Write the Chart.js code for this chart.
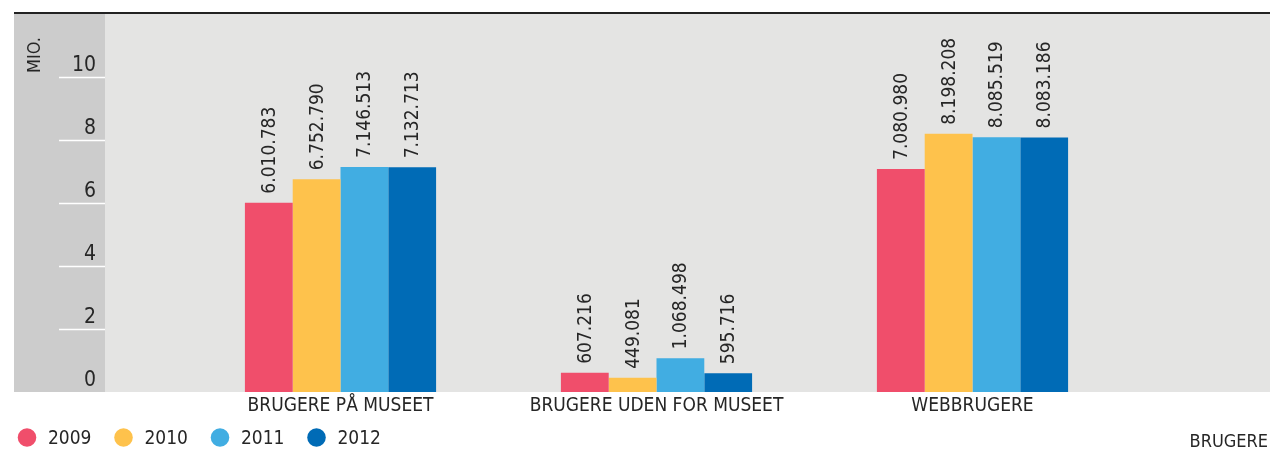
<!DOCTYPE html>
<html>
<head>
<meta charset="utf-8">
<script src="https://cdn.jsdelivr.net/npm/chart.js@4.4.1/dist/chart.umd.min.js"></script>
<style>
  html, body { margin: 0; padding: 0; background: #fff; }
</style>
</head>
<body>
<canvas id="myChart" width="1270" height="455"></canvas>
<script>
var categories = ['BRUGERE PÅ MUSEET', 'BRUGERE UDEN FOR MUSEET', 'WEBBRUGERE'];
var years = ['2009', '2010', '2011', '2012'];
var users2009 = [6010783, 607216, 7080980];
var users2010 = [6752790, 449081, 8198208];
var users2011 = [7146513, 1068498, 8085519];
var users2012 = [7132713, 595716, 8083186];
var yTicks = [0, 2, 4, 6, 8, 10];

var colors = ['#f04e6b', '#fec24c', '#41ade2', '#006bb6'];
var FONT = "'DejaVu Sans Condensed', 'Liberation Sans', sans-serif";
var TEXT = '#262626';

function fmt(n) {
  return String(n).replace(/\B(?=(\d{3})+(?!\d))/g, '.');
}

var series = [users2009, users2010, users2011, users2012];
var data = {
  labels: categories,
  datasets: series.map(function (s, i) {
    return {
      label: years[i],
      raw: s,
      data: s.map(function (v) { return v / 1000000; }),
      backgroundColor: colors[i],
      borderWidth: 0,
      categoryPercentage: 0.605,
      barPercentage: 1
    };
  })
};

// backgrounds, tick lines, value labels, legend and extra titles
var decor = {
  id: 'decor',
  beforeDraw: function (chart) {
    var c = chart.ctx, a = chart.chartArea, y = chart.scales.y;
    c.save();
    c.fillStyle = '#cccccc';
    c.fillRect(14, a.top, 91, a.bottom - a.top);
    c.fillStyle = '#e4e4e3';
    c.fillRect(105, a.top, 1270 - 105, a.bottom - a.top);
    c.strokeStyle = '#222';
    c.lineWidth = 2;
    c.beginPath();
    c.moveTo(14, a.top - 1);
    c.lineTo(1270, a.top - 1);
    c.stroke();
    c.strokeStyle = '#ffffff';
    c.lineWidth = 1.5;
    yTicks.forEach(function (t) {
      if (t === 0) return;
      var py = Math.round(y.getPixelForValue(t)) + 0.5;
      c.beginPath();
      c.moveTo(59, py);
      c.lineTo(105, py);
      c.stroke();
    });
    c.restore();
  },
  afterDatasetsDraw: function (chart) {
    var c = chart.ctx;
    c.save();
    c.fillStyle = TEXT;
    c.font = '19px ' + FONT;
    c.textAlign = 'left';
    c.textBaseline = 'middle';
    chart.data.datasets.forEach(function (ds, i) {
      chart.getDatasetMeta(i).data.forEach(function (bar, j) {
        c.save();
        c.translate(bar.x, bar.y - 9);
        c.rotate(-Math.PI / 2);
        c.fillText(fmt(ds.raw[j]), 0, 1);
        c.restore();
      });
    });
    c.restore();
  },
  afterDraw: function (chart) {
    var c = chart.ctx;
    c.save();
    c.fillStyle = TEXT;
    // MIO.
    c.font = '18px ' + FONT;
    c.save();
    c.translate(34, 73);
    c.rotate(-Math.PI / 2);
    c.textAlign = 'left';
    c.textBaseline = 'middle';
    c.fillText('MIO.', 0, 1);
    c.restore();
    // legend
    var lx = [27, 123.5, 220, 316.5];
    c.font = '19px ' + FONT;
    c.textAlign = 'left';
    c.textBaseline = 'middle';
    chart.data.datasets.forEach(function (ds, i) {
      c.fillStyle = ds.backgroundColor;
      c.beginPath();
      c.arc(lx[i], 437.5, 9.3, 0, Math.PI * 2);
      c.fill();
      c.fillStyle = TEXT;
      c.fillText(ds.label, lx[i] + 21, 439);
    });
    // x title
    c.font = '18px ' + FONT;
    c.textAlign = 'right';
    c.fillText('BRUGERE', 1268, 442);
    c.restore();
  }
};

function noPad(s) {
  s.paddingTop = 0;
  s.paddingBottom = 0;
  s.paddingLeft = 0;
  s.paddingRight = 0;
}

var options = {
  responsive: false,
  devicePixelRatio: 1,
  animation: false,
  layout: { padding: { top: 14, right: 139.5, bottom: 0, left: 0 } },
  plugins: {
    legend: { display: false },
    tooltip: { enabled: false }
  },
  scales: {
    x: {
      grid: { display: false, drawTicks: false },
      border: { display: false },
      ticks: { color: TEXT, font: { family: FONT, size: 19 }, padding: 3, maxRotation: 0, autoSkip: false },
      afterFit: function (s) { s.height = 63; noPad(s); }
    },
    y: {
      min: 0,
      max: 12,
      grid: { display: false, drawTicks: false },
      border: { display: false },
      afterBuildTicks: function (s) {
        s.ticks = yTicks.map(function (v) { return { value: v }; });
      },
      ticks: {
        color: TEXT,
        font: { family: FONT, size: 21 },
        padding: 86.5,
        labelOffset: -11
      },
      afterFit: function (s) { s.width = 182.5; noPad(s); }
    }
  }
};

var ctx = document.getElementById('myChart').getContext('2d');
var chart = new Chart(ctx, {
  type: 'bar',
  data: data,
  options: options,
  plugins: [decor]
});
</script>
</body>
</html>
